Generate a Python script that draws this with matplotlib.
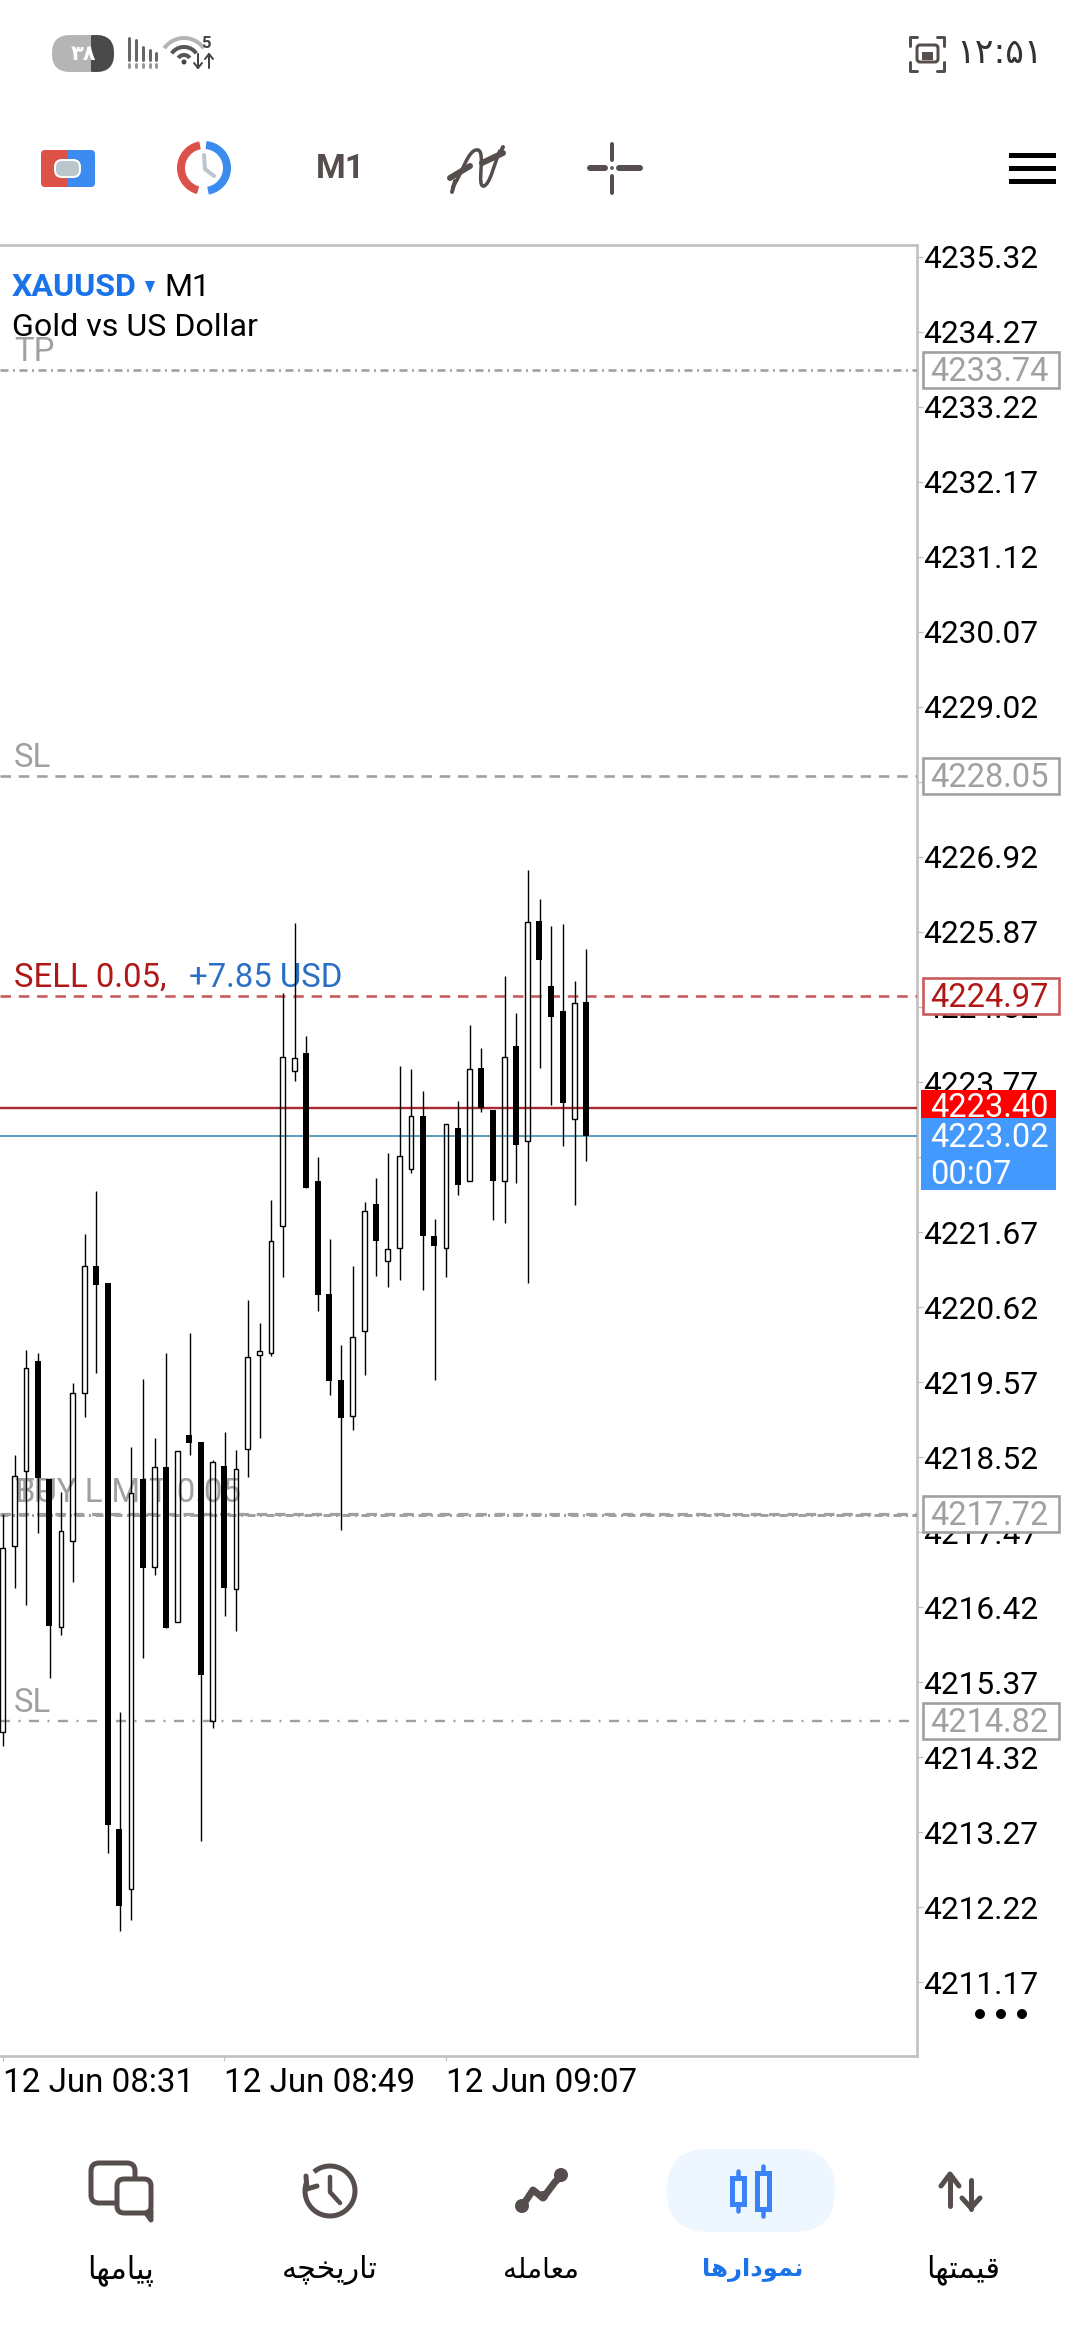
import numpy as np
import matplotlib
matplotlib.use("Agg")
import matplotlib.pyplot as plt
from matplotlib.patches import Rectangle, FancyBboxPatch, Polygon, Circle, PathPatch
from matplotlib.path import Path

plt.rcParams['font.family'] = ['Roboto', 'DejaVu Sans']
plt.rcParams['lines.scale_dashes'] = False

# ---------- data (prices) ----------
opens = [4214.67, 4217.28, 4218.33, 4219.86, 4218.21, 4216.14, 4217.35, 4219.41, 4221.20, 4220.96,
         4213.31, 4212.47, 4218.21, 4216.98, 4218.38, 4216.21, 4218.83, 4218.73, 4214.83, 4218.40,
         4216.67, 4218.63, 4219.95, 4219.98, 4221.76, 4223.92, 4224.17, 4222.38, 4220.80, 4219.60,
         4219.10, 4220.29, 4222.06, 4221.27, 4221.44, 4222.55, 4223.30, 4221.62, 4221.44, 4223.12,
         4222.39, 4223.96, 4223.38, 4222.39, 4224.27, 4222.95, 4226.02, 4225.11, 4224.76, 4223.25,
         4224.89]
highs = [4217.72, 4218.55, 4220.02, 4219.97, 4218.22, 4218.03, 4219.56, 4221.64, 4222.25, 4220.96,
         4214.95, 4218.66, 4219.61, 4218.79, 4219.97, 4218.61, 4220.26, 4218.73, 4218.48, 4218.87,
         4218.62, 4220.72, 4220.40, 4222.12, 4225.01, 4226.00, 4224.41, 4222.72, 4221.57, 4220.09,
         4221.19, 4222.09, 4222.43, 4222.77, 4223.99, 4223.95, 4223.64, 4221.85, 4223.18, 4223.50,
         4224.57, 4224.24, 4223.38, 4225.25, 4224.73, 4226.74, 4226.33, 4225.95, 4225.98, 4225.19,
         4225.63]
lows = [4214.47, 4216.69, 4216.45, 4217.46, 4215.42, 4216.03, 4216.77, 4219.08, 4219.69, 4212.98,
        4211.89, 4212.04, 4215.71, 4216.87, 4216.12, 4216.21, 4218.55, 4213.15, 4214.73, 4216.30,
        4216.09, 4218.24, 4218.79, 4219.94, 4221.04, 4223.79, 4222.29, 4220.57, 4219.39, 4217.50,
        4218.90, 4219.67, 4221.06, 4220.90, 4221.00, 4222.49, 4220.86, 4219.60, 4221.04, 4222.19,
        4222.39, 4223.35, 4221.84, 4221.80, 4222.35, 4220.95, 4223.97, 4223.45, 4222.88, 4222.05,
        4222.67]
closes = [4217.25, 4218.26, 4219.76, 4218.23, 4216.15, 4217.49, 4219.41, 4221.20, 4220.93, 4213.37,
          4212.24, 4218.01, 4216.97, 4218.38, 4216.12, 4218.61, 4218.71, 4215.47, 4218.45, 4216.68,
          4218.35, 4219.92, 4220.00, 4221.55, 4224.12, 4224.10, 4222.29, 4220.79, 4219.59, 4219.06,
          4220.20, 4221.97, 4221.55, 4221.43, 4222.73, 4223.30, 4221.62, 4221.48, 4223.18, 4222.33,
          4223.95, 4223.41, 4222.39, 4224.12, 4222.89, 4226.01, 4225.48, 4224.68, 4223.47, 4224.88,
          4223.02]
price_ticks = [4235.32, 4234.27, 4233.22, 4232.17, 4231.12, 4230.07, 4229.02, 4227.97, 4226.92,
               4225.87, 4224.82, 4223.77, 4222.72, 4221.67, 4220.62, 4219.57, 4218.52, 4217.47,
               4216.42, 4215.37, 4214.32, 4213.27, 4212.22, 4211.17]
date_tick_idx = [0, 19, 38]
date_labels = ['12 Jun 08:31', '12 Jun 08:49', '12 Jun 09:07']
level_tp = 4233.74
level_sl_up = 4228.05
level_sell = 4224.97
level_ask = 4223.40
level_bid = 4223.02
level_buy = 4217.72
level_sl_low = 4214.82
countdown = '00:07'
nav_labels = ['\uFE8E\uFEEC\uFEE3\uFE8E\uFBFF\uFB58',              # messages
              '\uFEEA\uFB7D\uFEA8\uFBFE\uFEAD\uFE8E\uFE97',        # history
              '\uFEEA\uFEE0\uFEE3\uFE8E\uFECC\uFEE3',              # trade
              '\uFE8E\uFEEB\uFEAD\uFE8D\uFEA9\uFEEE\uFEE4\uFEE7',  # charts
              '\uFE8E\uFEEC\uFE98\uFEE4\uFBFF\uFED7']              # quotes

# ---------- style ----------
W, H = 1080, 2340
FS = 22.8
FS_LABEL = 23.7
FS_BOX = 23.5
GRAY = '#a0a0a0'
FRAME = '#c0c0c0'
ICON = '#554e4c'
BLUE = '#1a73e8'
def px(v):
    return v * 0.72

fig = plt.figure(figsize=(W / 100, H / 100), dpi=100, facecolor='white')
L, R, T, B = 0, 917, 245, 2056
ax = fig.add_axes([L / W, 1 - B / H, (R - L) / W, (B - T) / H])
PX_PER_UNIT = 71.43
def py(p):
    return 1082 + (4223.77 - p) * PX_PER_UNIT
ax.set_ylim(4223.77 - (B - 1082) / PX_PER_UNIT, 4223.77 + (1082 - T) / PX_PER_UNIT)
STEP = 11.67
ax.set_xlim(-2.63 / STEP, (R - 2.63) / STEP)

for s in ['top', 'bottom', 'right']:
    ax.spines[s].set_color(FRAME)
    ax.spines[s].set_linewidth(px(2.6))
ax.spines['left'].set_visible(False)
ax.yaxis.tick_right()
ax.set_yticks(price_ticks)
ax.set_yticklabels([f'{v:.2f}' for v in price_ticks], fontsize=FS, color='black')
ax.tick_params(axis='y', length=px(6), width=px(1.2), color=FRAME, pad=px(0))
ax.set_xticks(date_tick_idx)
ax.set_xticklabels(date_labels, fontsize=23.9, color='black', ha='left')
ax.tick_params(axis='x', length=px(5), width=px(1.2), color=FRAME, pad=px(5.5))

o, h, l, c = map(np.array, (opens, highs, lows, closes))
x = np.arange(len(o))
up = c > o

# pending-order texts sit behind the candles
ax.set_axisbelow(False)
def label(xp, yp, s, color, **kw):
    ax.text((xp - 2.63) / STEP, ax.get_ylim()[1] - (yp - T) / PX_PER_UNIT, s, color=color,
            fontsize=FS_LABEL, va='center', ha='left', zorder=1, **kw)
label(14, py(level_tp) - 17.5, 'TP', GRAY)
label(14, py(level_sl_up) - 18, 'SL', GRAY)
label(14, py(level_buy) - 21, 'TP', GRAY)
label(15, py(level_buy) - 21, 'BUY LIMIT 0.05', GRAY)
label(14, py(level_sl_low) - 18, 'SL', GRAY)
label(14, py(level_sell) - 18.5, 'SELL 0.05,', '#b01818')
label(189, py(level_sell) - 18.5, '+7.85 USD', '#2a6fc4')

# hollow bullish bodies, then levels, then wicks and black bodies
ax.bar(x[up], (c - o)[up], bottom=o[up], width=4.6 / STEP, facecolor='none', edgecolor='black',
       linewidth=px(1.4), zorder=4)
dd = (0, (px(10.5), px(7.8)))
dashdot = (0, (px(10), px(8.5), px(2), px(8.5)))
thin_dd = (0, (px(8), px(4.5), px(2), px(4.5)))
ax.axhline(level_tp, color=GRAY, lw=px(2.6), ls=thin_dd, zorder=3)
ax.axhline(level_sl_up, color=GRAY, lw=px(2.6), ls=dd, zorder=3)
ax.axhline(level_sell, color='#c85a5a', lw=px(2.6), ls=dd, zorder=3)
ax.axhline(level_ask, color='#a82a30', lw=px(2.4), zorder=3)
ax.axhline(level_bid, color='#5a9ec0', lw=px(2), zorder=3)
ax.axhline(level_buy, color=GRAY, lw=px(3.2), ls=dd, zorder=3)
ax.axhline(level_buy - 0.015, color=GRAY, lw=px(3), ls=thin_dd, zorder=3)
ax.axhline(level_sl_low, color=GRAY, lw=px(2.4), ls=dashdot, zorder=3)

ax.vlines(x[up] + 0.03, c[up], h[up], color='black', lw=px(1.4), zorder=4)
ax.vlines(x[up] + 0.03, l[up], o[up], color='black', lw=px(1.4), zorder=4)
ax.vlines(x[~up] + 0.03, l[~up], h[~up], color='black', lw=px(1.4), zorder=4)
ax.bar(x[~up], (o - c)[~up], bottom=c[~up], width=6 / STEP, color='black', linewidth=0, zorder=5)

# ---------- overlay in screen pixels ----------
ui = fig.add_axes([0, 0, 1, 1], zorder=10)
ui.set_xlim(0, W)
ui.set_ylim(H, 0)
ui.axis('off')
ui.patch.set_alpha(0)

def rect(x0, y0, x1, y1, fc='none', ec='none', lw=0, z=2):
    ui.add_patch(Rectangle((x0, y0), x1 - x0, y1 - y0, fc=fc, ec=ec, lw=px(lw), zorder=z))
def rrect(x0, y0, x1, y1, r, fc='none', ec='none', lw=0, z=2):
    ui.add_patch(FancyBboxPatch((x0 + r, y0 + r), x1 - x0 - 2 * r, y1 - y0 - 2 * r,
                                boxstyle=f'round,pad={r},rounding_size={r}', fc=fc, ec=ec,
                                lw=px(lw), zorder=z))
def line(xs, ys, color=ICON, lw=3, z=3):
    ui.plot(xs, ys, color=color, lw=px(lw), solid_capstyle='round', zorder=z)
def arc(cx, cy, r, a0, a1, color=ICON, lw=3, z=3):
    a = np.radians(np.linspace(a0, a1, 60))
    ui.plot(cx + r * np.cos(a), cy - r * np.sin(a), color=color, lw=px(lw),
            solid_capstyle='butt', zorder=z)
def txt(xp, yp, s, color='black', size=FS, ha='left', **kw):
    ui.text(xp, yp, s, color=color, fontsize=size, ha=ha, va='center', zorder=5, **kw)

# price boxes
for lev, ec, tc in [(level_tp, GRAY, GRAY), (level_sl_up, GRAY, GRAY), (level_sell, '#c85a5a', '#b01818'),
                    (level_buy, GRAY, GRAY), (level_sl_low, GRAY, GRAY)]:
    y0 = py(lev)
    rect(923, y0 - 18, 1059, y0 + 18, fc='white', ec=ec, lw=2.6)
    txt(930, y0 + 2, f'{lev:.2f}', color=tc, size=FS_BOX)
rect(921, 1090, 1056, 1118, fc='#ff0000')
txt(930, py(level_ask), f'{level_ask:.2f}', color='white', size=FS_BOX)
rect(921, 1118, 1056, 1190, fc='#4499ff', z=6)
ui.text(930, py(level_bid) + 2.5, f'{level_bid:.2f}', color='white', fontsize=FS_BOX, va='center', zorder=7)
ui.text(930, 1175, countdown, color='white', fontsize=FS_BOX, va='center', zorder=7)
for xd in [980, 1001, 1022]:
    ui.add_patch(Circle((xd, 2014), 5, fc='black', ec='none', zorder=5))

# chart header
txt(12, 287.5, 'XAUUSD', color=BLUE, fontweight='bold', size=23.1)
ui.add_patch(Polygon([(145, 281), (155, 281), (150, 293)], fc=BLUE, ec='none', zorder=5))
txt(164, 287.5, 'M1', size=23.1)
txt(12, 327.5, 'Gold vs US Dollar', size=23.1)

# status bar
rrect(52, 35, 114, 72, 18, fc='#b5b5b5')
ui.add_patch(FancyBboxPatch((91, 35), 5, 37, boxstyle='round,pad=0,rounding_size=2', fc='#4a4a4a', ec='none', zorder=3))
rrect(80, 35, 114, 72, 18, fc='#4a4a4a', z=2.5)
rect(80, 35, 91, 72, fc='#b5b5b5', z=2.6)
txt(83, 55, '\u06F3\u06F8', color='white', size=15, ha='center', fontweight='bold')
for xb, y0, y1 in [(129, 38, 60), (136, 40, 60), (143, 47, 60), (150, 50, 60), (156, 53, 60)]:
    line([xb, xb], [y0, y1], color='#666666', lw=3)
    line([xb, xb], [64, 67], color='#999999', lw=3)
arc(184, 62, 24, 35, 145, color='#b5b5b5', lw=4)
arc(184, 62, 15, 35, 145, color='#555555', lw=4)
arc(184, 62, 7, 35, 145, color='#555555', lw=4)
ui.add_patch(Circle((184, 62), 2.5, fc='#444444', ec='none', zorder=4))
txt(206, 44, '5', color='#444444', size=12, ha='center', fontweight='bold')
line([198, 198], [54, 68], color='#444444', lw=2)
line([209, 209], [54, 68], color='#444444', lw=2)
line([194, 198, 202], [63, 68, 63], color='#444444', lw=2)
line([205, 209, 213], [59, 54, 59], color='#444444', lw=2)
# screenshot icon and clock
for sx, sy in [(-1, -1), (1, -1), (-1, 1), (1, 1)]:
    cx, cy = 927, 53.5
    line([cx + sx * 17, cx + sx * 17, cx + sx * 10], [cy + sy * 8, cy + sy * 17, cy + sy * 17], lw=3)
rrect(917, 45, 938, 62, 3, ec=ICON, lw=3)
rect(922, 52, 933, 60, fc=ICON, z=4)
txt(1000, 53, '\u06F1\u06F2:\u06F5\u06F1', color='#333333', size=25, ha='center', family=['DejaVu Sans'])

# toolbar
rrect(41, 150, 66, 187, 4, fc='#dc5148')
rrect(68, 150, 95, 187, 4, fc='#3b8bf0')
rect(60, 150, 67.5, 187, fc='#dc5148', z=2.1)
rect(67.5, 150, 74, 187, fc='#3b8bf0', z=2.1)
rrect(55, 160, 80, 177, 7, fc='#b9c6cc', ec='white', lw=2, z=3)
arc(204, 168, 23, 100, 255, color='#dc5148', lw=8)
arc(204, 168, 23, -80, 85, color='#3b8bf0', lw=8)
line([204, 205, 214], [155, 169, 176], color='#b9c6cc', lw=4)
txt(340, 169, 'M1', color=ICON, size=24.5, ha='center', fontweight='bold')
wave = Path([(452, 188), (462, 175), (468, 148), (478, 150), (486, 152), (476, 188), (484, 186), (490, 184), (494, 165), (500, 150)],
            [Path.MOVETO] + [Path.CURVE4] * 9)
ui.add_patch(PathPatch(wave, fc='none', ec=ICON, lw=px(3.5), zorder=3))
line([450, 470], [178, 166], lw=6)
line([482, 503], [163, 153], lw=6)
line([455, 452], [181, 192], lw=4)
line([500, 503], [153, 147], lw=4)
line([612, 612], [144, 160], lw=4)
line([612, 612], [176, 193], lw=4)
line([590, 605], [168, 168], lw=6)
line([619, 640], [168, 168], lw=6)
ui.add_patch(Circle((612, 168), 1.8, fc=ICON, ec='none', zorder=4))
for yb in [155.5, 168.5, 181.5]:
    rect(1009, yb - 2.8, 1056, yb + 2.8, fc='black')

# bottom navigation
rrect(667, 2149, 835, 2232, 41, fc='#eef6ff', z=1)
for cxl, s, col, w, sz in zip([121, 330, 541, 753, 963], nav_labels,
                              ['black', 'black', 'black', BLUE, 'black'],
                              ['normal', 'normal', 'normal', 'bold', 'normal'],
                              [22, 21.7, 20, 17.5, 21.8]):
    ui.text(cxl, 2270, s, color=col, fontsize=sz, ha='center', va='center', fontweight=w,
            family=['DejaVu Sans'], zorder=5)
# messages icon
rrect(91, 2163, 135, 2203, 8, fc='none', ec=ICON, lw=5)
rrect(117, 2179, 151, 2213, 7, fc='white', ec=ICON, lw=5, z=3)
line([146, 151, 151], [2213, 2220, 2210], lw=5, z=4)
# history icon
arc(330, 2191, 25, -200, 130, lw=5)
line([306, 307, 317], [2176, 2189, 2186], lw=5)
line([330, 330, 340], [2177, 2192, 2203], lw=4.5)
# trade icon
line([521, 533, 543, 555, 563], [2208, 2190, 2198, 2182, 2174], lw=7)
for xn, yn, rn in [(522, 2206, 7), (561, 2175, 7), (543, 2196, 5)]:
    ui.add_patch(Circle((xn, yn), rn, fc=ICON, ec='none', zorder=4))
# charts icon
CB = '#3b82f6'
for xc, y0, y1, b0, b1 in [(738, 2171, 2211, 2178, 2204), (763, 2166, 2216, 2173, 2209)]:
    line([xc, xc], [y0, y1], color=CB, lw=4.5)
    rect(xc - 6, b0, xc + 6, b1, fc='#eef6ff', ec=CB, lw=5, z=4)
# quotes icon
line([950, 950], [2176, 2206], lw=5)
line([941, 950, 959], [2186, 2174, 2186], lw=5)
line([971, 971], [2180, 2209], lw=5)
line([962, 971, 980], [2198, 2208, 2198], lw=5)

fig.savefig('out.png', dpi=100, facecolor='white')
